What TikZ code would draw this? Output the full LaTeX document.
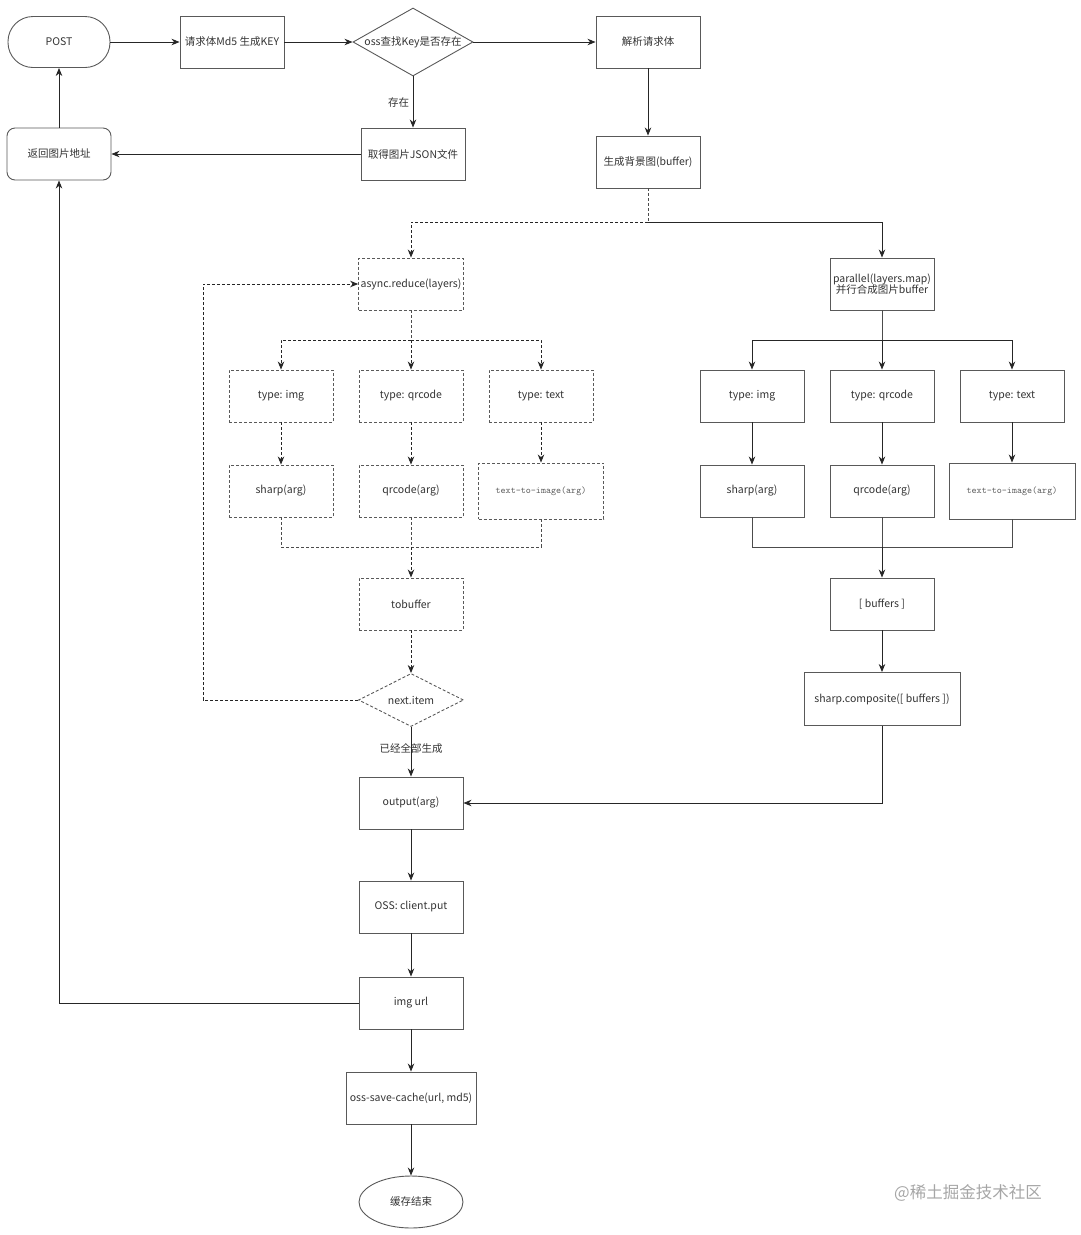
\documentclass[tikz,border=0pt]{standalone}
\usepackage{fontspec}
\setmainfont{Noto Sans CJK SC}
\usetikzlibrary{shapes,shapes.geometric,arrows.meta,calc,positioning}
\tikzset{blk/.style={draw=black!65, rectangle, line width=0.9pt, minimum width=104pt, minimum height=52pt, inner sep=2pt, text=black!80, font=\fontsize{10.5}{13}\selectfont, align=center}}
\tikzset{dshd/.style={dash pattern=on 3pt off 2pt}}
\tikzset{dblk/.style={blk, dshd}}
\tikzset{dia/.style={blk, diamond, inner sep=0pt}}
\tikzset{arr/.style={draw=black!85, line width=0.9pt, -{Stealth[length=8pt,width=6.5pt,inset=2.5pt]}}}
\tikzset{darr/.style={arr, dshd}}
\tikzset{ln/.style={draw=black!70, line width=0.9pt}}
\tikzset{dln/.style={ln, dshd}}
\tikzstyle{code}=[font=\ttfamily\fontsize{9.6}{11}\selectfont, text=black!65]

\begin{document}
\begin{tikzpicture}[x=1pt, y=-1pt]
\useasboundingbox (0,0) rectangle (1080,1235);
% top row
\node[blk, rounded corners=25pt, minimum width=102pt, minimum height=51pt] (post) at (59,42) {POST};
\node[blk] (md5) at (232,42) {请求体Md5 生成KEY};
\node[dia, minimum width=120pt, minimum height=68pt, aspect=1.76] (find) at (413,42) {oss查找Key是否存在};
\node[blk] (parse) at (648,42) {解析请求体};
\node[blk] (getjson) at (413,154) {取得图片JSON文件};
\node[blk, rounded corners=8pt] (ret) at (59,154) {返回图片地址};
\node[blk] (bg) at (648,162) {生成背景图(buffer)};
% async branch
\node[dblk] (reduce) at (411,284) {async.reduce(layers)};
\node[dblk] (timg) at (281,396) {type: img};
\node[dblk] (tqr) at (411,396) {type: qrcode};
\node[dblk] (ttxt) at (541,396) {type: text};
\node[dblk] (simg) at (281,491) {sharp(arg)};
\node[dblk] (sqr) at (411,491) {qrcode(arg)};
\node[dblk, minimum width=121pt] (stxt) at (541,491) {\tikz[baseline]\node[code, inner sep=0pt, anchor=base]{text-to-image(arg)};};
\node[dblk] (tobuf) at (411,604) {tobuffer};
\node[dia, dshd, minimum width=105pt, minimum height=53pt, aspect=2] (next) at (411,700) {next.item};
% parallel branch
\node[blk] (par) at (882,284) {parallel(layers.map)\\[-2pt]并行合成图片buffer};
\node[blk] (pimg) at (752,396) {type: img};
\node[blk] (pqr) at (882,396) {type: qrcode};
\node[blk] (ptxt) at (1012,396) {type: text};
\node[blk] (qimg) at (752,491) {sharp(arg)};
\node[blk] (qqr) at (882,491) {qrcode(arg)};
\node[blk, minimum width=122pt] (qtxt) at (1012,491) {\tikz[baseline]\node[code, inner sep=0pt, anchor=base]{text-to-image(arg)};};
\node[blk] (bufs) at (882,604) {[ buffers ]};
\node[blk, minimum width=156pt, minimum height=53pt] (comp) at (882,699) {sharp.composite([ buffers ])};
% output chain
\node[blk] (out) at (411,803) {output(arg)};
\node[blk] (put) at (411,907) {OSS: client.put};
\node[blk] (url) at (411,1003) {img url};
\node[blk, minimum width=130pt] (save) at (411,1098) {oss-save-cache(url, md5)};
\node[blk, ellipse, inner sep=0pt] (endc) at (411,1202) {缓存结束};
\node[text=black!35, font=\fontsize{16.5}{18}\selectfont] (wm) at (968,1193) {@稀土掘金技术社区};

\coordinate (split) at (648,222);
\coordinate (ls) at (411,340);
\coordinate (lm) at (411,547);
\coordinate (lp) at (203,700);
\coordinate (rs) at (882,340);
\coordinate (rm) at (882,547);

\draw[arr] (post) -- (md5);
\draw[arr] (md5) -- (find);
\draw[arr] (find) -- (parse);
\draw[arr] (find) -- node[left, text=black!80, font=\fontsize{10.5}{13}\selectfont]{存在} (getjson);
\draw[arr] (getjson) -- (ret);
\draw[arr] (ret) -- (post);
\draw[arr] (parse) -- (bg);
\draw[dln] (bg) -- (split);
\draw[darr] (split) -| (reduce);
\draw[arr] (split) -| (par);
% dashed loop
\draw[dln] (reduce) -- (ls);
\draw[darr] (ls) -| (timg);
\draw[darr] (ls) -- (tqr);
\draw[darr] (ls) -| (ttxt);
\draw[darr] (timg) -- (simg);
\draw[darr] (tqr) -- (sqr);
\draw[darr] (ttxt) -- (stxt);
\draw[dln] (simg) |- (lm);
\draw[dln] (stxt) |- (lm);
\draw[dln] (sqr) -- (lm);
\draw[darr] (lm) -- (tobuf);
\draw[darr] (tobuf) -- (next);
\draw[darr] (next) -- (lp) |- (reduce);
\draw[arr] (next) -- node[pos=0.43, text=black!80, font=\fontsize{10.5}{13}\selectfont]{已经全部生成} (out);
% parallel
\draw[ln] (par) -- (rs);
\draw[arr] (rs) -| (pimg);
\draw[arr] (rs) -- (pqr);
\draw[arr] (rs) -| (ptxt);
\draw[arr] (pimg) -- (qimg);
\draw[arr] (pqr) -- (qqr);
\draw[arr] (ptxt) -- (qtxt);
\draw[ln] (qimg) |- (rm);
\draw[ln] (qtxt) |- (rm);
\draw[ln] (qqr) -- (rm);
\draw[arr] (rm) -- (bufs);
\draw[arr] (bufs) -- (comp);
\draw[arr] (comp) |- (out);
% output
\draw[arr] (out) -- (put);
\draw[arr] (put) -- (url);
\draw[arr] (url) -- (save);
\draw[arr] (save) -- (endc);
\draw[arr] (url) -| (ret);
\end{tikzpicture}
\end{document}
